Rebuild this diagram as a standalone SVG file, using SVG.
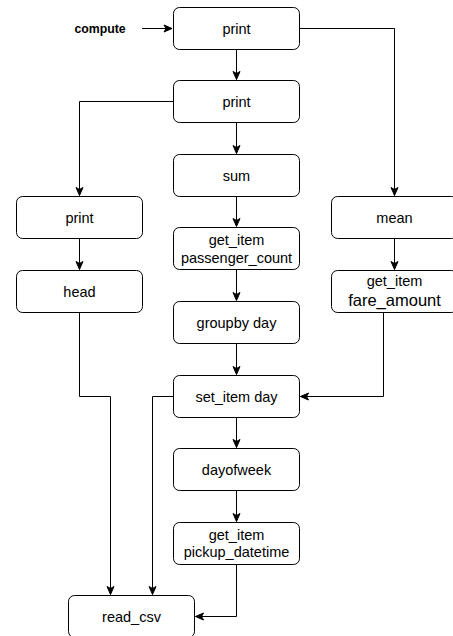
<svg xmlns="http://www.w3.org/2000/svg" width="453" height="636" viewBox="0 0 453 636">
<style>
.n rect{fill:#fff;stroke:#000;stroke-width:1}
.n text{font-family:"Liberation Sans",Arial,sans-serif;font-size:14.5px;fill:#000;text-anchor:middle;dominant-baseline:central}
.e path{fill:none;stroke:#000;stroke-width:1}
</style>
<defs>
<marker id="a" markerUnits="userSpaceOnUse" markerWidth="10" markerHeight="10" viewBox="0 0 10 10" refX="9" refY="5" orient="auto">
<path d="M1,1.5 L9,5 L1,8.5 L3,5 z" fill="#000" stroke="#000" stroke-width="1"/>
</marker>
</defs>
<rect width="453" height="636" fill="#fff"/>
<g class="e">
<path d="M142,28.5 H172" marker-end="url(#a)"/>
<path d="M236.5,49.5 V79.5" marker-end="url(#a)"/>
<path d="M299.5,28.5 H394.5 V195.5" marker-end="url(#a)"/>
<path d="M236.5,122.5 V153.5" marker-end="url(#a)"/>
<path d="M173.5,101.5 H79.5 V195.5" marker-end="url(#a)"/>
<path d="M79.5,238.5 V269.5" marker-end="url(#a)"/>
<path d="M394.5,238.5 V269.5" marker-end="url(#a)"/>
<path d="M236.5,196.5 V226.5" marker-end="url(#a)"/>
<path d="M236.5,269.5 V300.5" marker-end="url(#a)"/>
<path d="M236.5,343.5 V374.5" marker-end="url(#a)"/>
<path d="M383.5,312.5 V396.5 H300.5" marker-end="url(#a)"/>
<path d="M79.5,312.5 V396.5 H110.5 V594.5" marker-end="url(#a)"/>
<path d="M173.5,396.5 H152.5 V594.5" marker-end="url(#a)"/>
<path d="M236.5,417.5 V447.5" marker-end="url(#a)"/>
<path d="M236.5,490.5 V521.5" marker-end="url(#a)"/>
<path d="M236.5,564.5 V616.5 H195.5" marker-end="url(#a)"/>
</g>
<text x="100" y="28.5" font-family="Liberation Sans,Arial,sans-serif" font-size="12.3px" font-weight="bold" text-anchor="middle" dominant-baseline="central">compute</text>
<g id="print1" class="n"><rect x="173.5" y="7.5" width="126" height="42" rx="6"/><text x="236.5" y="28.5">print</text></g>
<g id="print2" class="n"><rect x="173.5" y="80.5" width="126" height="42" rx="6"/><text x="236.5" y="101.5">print</text></g>
<g id="sum" class="n"><rect x="173.5" y="154.5" width="126" height="42" rx="6"/><text x="236.5" y="175.5">sum</text></g>
<g id="print3" class="n"><rect x="16.5" y="196.5" width="126" height="42" rx="6"/><text x="79.5" y="217.5">print</text></g>
<g id="mean" class="n"><rect x="331.5" y="196.5" width="126" height="42" rx="6"/><text x="394.5" y="217.5">mean</text></g>
<g id="getitem_pc" class="n"><rect x="173.5" y="227.5" width="126" height="42" rx="6"/><text x="236.5" y="240">get_item</text><text x="236.5" y="258">passenger_count</text></g>
<g id="head" class="n"><rect x="16.5" y="270.5" width="126" height="42" rx="6"/><text x="79.5" y="291.5">head</text></g>
<g id="getitem_fa" class="n"><rect x="331.5" y="270.5" width="126" height="42" rx="6"/><text x="394.5" y="281">get_item</text><text x="394.5" y="300" style="font-size:16.5px">fare_amount</text></g>
<g id="groupby" class="n"><rect x="173.5" y="301.5" width="126" height="42" rx="6"/><text x="236.5" y="322.5">groupby day</text></g>
<g id="setitem" class="n"><rect x="173.5" y="375.5" width="126" height="42" rx="6"/><text x="236.5" y="396.5">set_item day</text></g>
<g id="dayofweek" class="n"><rect x="173.5" y="448.5" width="126" height="42" rx="6"/><text x="236.5" y="469.5">dayofweek</text></g>
<g id="getitem_pd" class="n"><rect x="173.5" y="522.5" width="126" height="42" rx="6"/><text x="236.5" y="535">get_item</text><text x="236.5" y="552">pickup_datetime</text></g>
<g id="read_csv" class="n"><rect x="68.5" y="595.5" width="126" height="42" rx="6"/><text x="131.5" y="616.5">read_csv</text></g>
</svg>
